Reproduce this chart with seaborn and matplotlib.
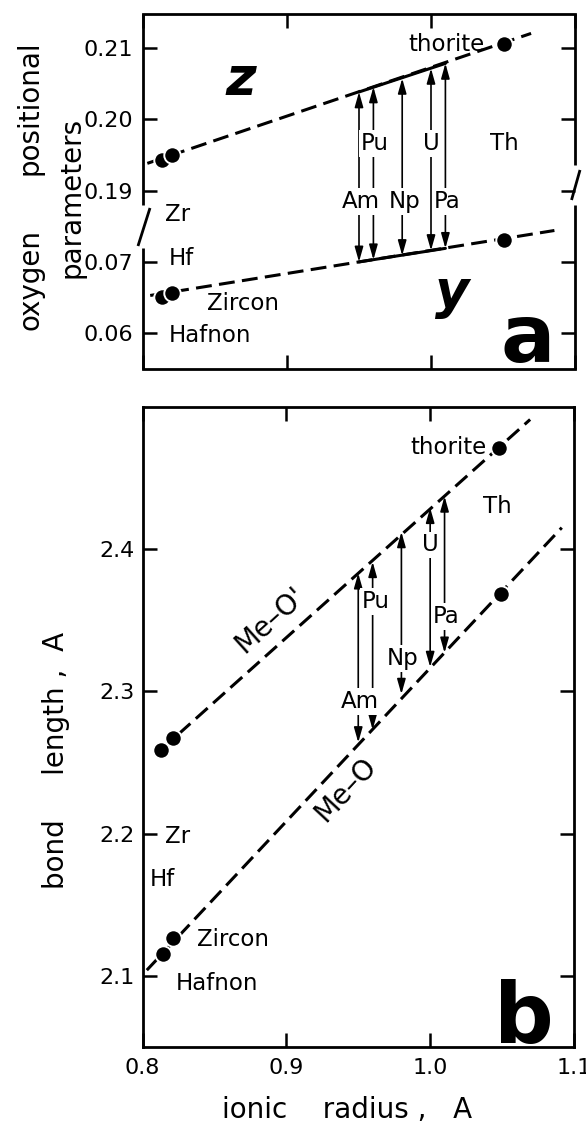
import numpy as np
import matplotlib
matplotlib.use("Agg")
import matplotlib.pyplot as plt
import seaborn as sns
from matplotlib.ticker import FixedLocator, FixedFormatter

# ---------------- data ----------------
# panel a : oxygen positional parameters
a_min_x = [0.813, 0.820, 1.051]          # Hafnon, Zircon, thorite
a_z_pts = [0.1943, 0.1950, 0.2105]
a_y_pts = [0.0651, 0.0657, 0.0731]
a_zline_x = [0.803, 1.0695]
a_zline_y = [0.1938, 0.2120]
a_yline_x = [0.805, 1.0857]
a_yline_y = [0.0653, 0.0744]

actinides = ["Am", "Pu", "Np", "U", "Pa"]
actinide_r = [0.95, 0.96, 0.98, 1.00, 1.01]
a_z_at_act = [0.2038, 0.2045, 0.2057, 0.2071, 0.2078]
a_y_at_act = [0.0700, 0.0703, 0.0709, 0.0716, 0.0719]

# panel b : bond lengths
b_up_x = [0.813, 0.821, 1.048]
b_meo_prime = [2.259, 2.267, 2.471]
b_lo_x = [0.814, 0.821, 1.049]
b_meo = [2.1155, 2.1269, 2.3686]
b_upline_x = [0.813, 1.0695]
b_upline_y = [2.259, 2.491]
b_loline_x = [0.803, 1.0915]
b_loline_y = [2.104, 2.415]
b_up_at_act = [2.383, 2.391, 2.412, 2.429, 2.437]
b_lo_at_act = [2.264, 2.273, 2.298, 2.317, 2.327]

a_yticks = [0.06, 0.07, 0.19, 0.20, 0.21]
a_yticklabels = ["0.06", "0.07", "0.19", "0.20", "0.21"]
b_yticks = [2.1, 2.2, 2.3, 2.4]
b_yticklabels = ["2.1", "2.2", "2.3", "2.4"]
xticks = [0.8, 0.9, 1.0, 1.1]
xticklabels = ["0.8", "0.9", "1.0", "1.1"]

# ---------------- style ----------------
sns.set_style("ticks", rc={"axes.edgecolor": "black", "xtick.color": "black",
                           "ytick.color": "black", "text.color": "black",
                           "axes.labelcolor": "black",
                           "xtick.direction": "in", "ytick.direction": "in"})
plt.rcParams["font.family"] = ["DejaVu Sans"]

W, H = 586, 1126
fig = plt.figure(figsize=(W / 100, H / 100), dpi=100)
axA = fig.add_axes([143 / W, 1 - 369.3 / H, 432 / W, 355.3 / H])
axB = fig.add_axes([142.5 / W, 1 - 1047 / H, 431.5 / W, 640.3 / H])

# broken y scale for panel a (0.075..0.185 removed)
def fwd(v):
    v = np.asarray(v, dtype=float)
    return np.where(v > 0.13, v - 0.11, v)

def inv(u):
    u = np.asarray(u, dtype=float)
    return np.where(u > 0.075, u + 0.11, u)

axA.set_yscale("function", functions=(fwd, inv))

DASH = (0, (5.2, 2.4))
LW = 2.2
dot_kw = dict(s=140, color="black", edgecolor="white", linewidth=1.4, zorder=6, legend=False)
line_kw = dict(color="black", linewidth=LW, errorbar=None, sort=False, legend=False)

# ---- panel a ----
sns.lineplot(x=a_zline_x, y=a_zline_y, ax=axA, linestyle=DASH, **line_kw)
sns.lineplot(x=a_yline_x, y=a_yline_y, ax=axA, linestyle=DASH, **line_kw)
sns.lineplot(x=[actinide_r[0], actinide_r[-1]], y=[a_z_at_act[0], a_z_at_act[-1]], ax=axA, **line_kw)
sns.lineplot(x=[actinide_r[0], actinide_r[-1]], y=[a_y_at_act[0], a_y_at_act[-1]], ax=axA, **line_kw)
sns.scatterplot(x=a_min_x, y=a_z_pts, ax=axA, **dot_kw)
sns.scatterplot(x=a_min_x, y=a_y_pts, ax=axA, **dot_kw)

arrow_kw = dict(arrowstyle="<|-|>,head_length=0.6,head_width=0.17", lw=1.2,
                color="black", shrinkA=0, shrinkB=0, mutation_scale=15)
for r, lo, hi in zip(actinide_r, a_y_at_act, a_z_at_act):
    axA.annotate("", xy=(r, hi), xytext=(r, lo), arrowprops=arrow_kw, zorder=4)

lab_kw = dict(fontsize=16.5, ha="center", va="baseline", zorder=7,
              bbox=dict(facecolor="white", edgecolor="none", pad=1.2))
tA = axA.get_xaxis_transform()
tB = axB.get_xaxis_transform()

# actinide labels panel a
axA.text(0.961, 0.617, "Pu", transform=tA, **lab_kw)
axA.text(1.000, 0.617, "U", transform=tA, **lab_kw)
axA.text(1.051, 0.617, "Th", transform=tA, **lab_kw)
axA.text(0.951, 0.454, "Am", transform=tA, **lab_kw)
axA.text(0.982, 0.454, "Np", transform=tA, **lab_kw)
axA.text(1.011, 0.454, "Pa", transform=tA, **lab_kw)

txt_kw = dict(fontsize=16.5, va="baseline", zorder=7)
axA.text(1.037, 0.896, "thorite", transform=tA, ha="right", **txt_kw)
axA.text(0.8156, 0.417, "Zr", transform=tA, ha="left", **txt_kw)
axA.text(0.818, 0.294, "Hf", transform=tA, ha="left", **txt_kw)
axA.text(0.8446, 0.167, "Zircon", transform=tA, ha="left", **txt_kw)
axA.text(0.818, 0.078, "Hafnon", transform=tA, ha="left", **txt_kw)
axA.text(0.868, 0.772, "z", transform=tA, ha="center", va="baseline",
         fontsize=38, style="italic", fontweight="bold")
axA.text(1.015, 0.1725, "y", transform=tA, ha="center", va="baseline",
         fontsize=38, style="italic", fontweight="bold")
axA.text(1.067, 0.021, "a", transform=tA, ha="center", va="baseline",
         fontsize=58, fontweight="heavy")

axA.set_xlim(0.8, 1.1)
axA.set_ylim(0.05496, 0.21472)
axA.yaxis.set_major_locator(FixedLocator(a_yticks))
axA.yaxis.set_major_formatter(FixedFormatter(a_yticklabels))
axA.yaxis.set_minor_locator(FixedLocator([]))
axA.set_xticks(xticks)
axA.tick_params(axis="both", which="major", direction="in", length=10, width=1.8,
                labelsize=16, pad=7, top=True, right=True, labelbottom=False)
for t in axA.yaxis.get_major_ticks():
    if abs(t.get_loc() - 0.19) < 1e-6:
        t.tick2line.set_visible(False)
axA.set_xlabel("")
axA.set_ylabel("")

# spines with break marks
for s in ("top", "bottom"):
    axA.spines[s].set_linewidth(2)
axA.spines["left"].set_visible(False)
axA.spines["right"].set_visible(False)
bk = dict(transform=axA.transAxes, color="black", lw=2, clip_on=False,
          solid_capstyle="butt", zorder=8)
axA.plot([0, 0], [0, 0.341], **bk)
axA.plot([0, 0], [0.462, 1], **bk)
axA.plot([0.0162, -0.0116], [0.454, 0.347], **bk)
axA.plot([1, 1], [0, 0.462], **bk)
axA.plot([1, 1], [0.575, 1], **bk)
axA.plot([1.0116, 0.992], [0.561, 0.4765], **bk)

# ---- panel b ----
sns.lineplot(x=b_upline_x, y=b_upline_y, ax=axB, linestyle=DASH, **line_kw)
sns.lineplot(x=b_loline_x, y=b_loline_y, ax=axB, linestyle=DASH, **line_kw)
sns.scatterplot(x=b_up_x, y=b_meo_prime, ax=axB, **dot_kw)
sns.scatterplot(x=b_lo_x, y=b_meo, ax=axB, **dot_kw)
for r, lo, hi in zip(actinide_r, b_lo_at_act, b_up_at_act):
    axB.annotate("", xy=(r, hi), xytext=(r, lo), arrowprops=arrow_kw, zorder=4)

axB.text(0.962, 0.6856, "Pu", transform=tB, **lab_kw)
axB.text(0.951, 0.5294, "Am", transform=tB, **lab_kw)
axB.text(0.981, 0.5966, "Np", transform=tB, **lab_kw)
axB.text(1.000, 0.7739, "U", transform=tB, **lab_kw)
axB.text(1.011, 0.6622, "Pa", transform=tB, **lab_kw)
axB.text(1.047, 0.834, "Th", transform=tB, ha="center", **txt_kw)
axB.text(1.0394, 0.9269, "thorite", transform=tB, ha="right", **txt_kw)
axB.text(0.8156, 0.3186, "Zr", transform=tB, ha="left", **txt_kw)
axB.text(0.8052, 0.2507, "Hf", transform=tB, ha="left", **txt_kw)
axB.text(0.8377, 0.157, "Zircon", transform=tB, ha="left", **txt_kw)
axB.text(0.8233, 0.089, "Hafnon", transform=tB, ha="left", **txt_kw)
axB.text(0.8887, 2.3503, "Me\u2013O'", fontsize=20, rotation=42, ha="center",
         va="center", rotation_mode="anchor", zorder=7)
axB.text(0.9415, 2.2307, "Me\u2013O", fontsize=20, rotation=47, ha="center",
         va="center", rotation_mode="anchor", zorder=7)
axB.text(1.065, 0.0058, "b", transform=tB, ha="center", va="baseline",
         fontsize=60, fontweight="heavy")

axB.set_xlim(0.8, 1.1)
axB.set_ylim(2.05, 2.50)
axB.set_xticks(xticks)
axB.set_xticklabels(xticklabels)
axB.set_yticks(b_yticks)
axB.set_yticklabels(b_yticklabels)
axB.tick_params(axis="both", which="major", direction="in", length=10, width=1.8,
                labelsize=16, top=True, right=True)
axB.tick_params(axis="y", pad=6)
axB.tick_params(axis="x", pad=8)
for s in axB.spines.values():
    s.set_linewidth(2)
axB.set_xlabel("")
axB.set_ylabel("")

# ---- axis titles ----
def ftext(px, py, s, **kw):
    fig.text(px / W, 1 - py / H, s, **kw)

lbl = dict(fontsize=20, ha="center", va="center")
ftext(30, 108, "positional", rotation=90, **lbl)
ftext(30, 280, "oxygen", rotation=90, **lbl)
ftext(72, 197, "parameters", rotation=90, **lbl)
ftext(56, 760, "bond     length ,  A", rotation=90, **lbl)
ftext(347, 1110, "ionic    radius ,   A", **lbl)

fig.savefig("out.png", dpi=100)
